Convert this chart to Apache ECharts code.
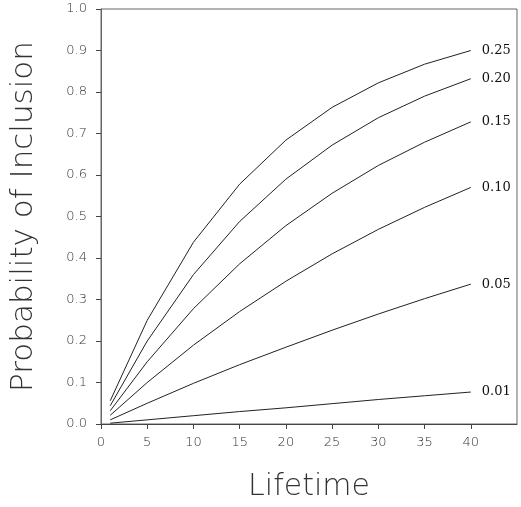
<!DOCTYPE html>
<html>
<head>
<meta charset="utf-8">
<script src="https://cdn.jsdelivr.net/npm/echarts@6/dist/echarts.min.js"></script>
<style>
html,body{margin:0;padding:0;background:#fff;}
#chart{width:521px;height:507px;}
</style>
</head>
<body>
<div id="chart"></div>
<script>
// Lifetime values (x)
const lifetimes = [1, 5, 10, 15, 20, 25, 30, 35, 40];
// Probability of inclusion for each curve
const p025 = [0.056, 0.250, 0.438, 0.578, 0.684, 0.763, 0.822, 0.867, 0.900];
const p020 = [0.044, 0.200, 0.360, 0.488, 0.590, 0.672, 0.738, 0.790, 0.832];
const p015 = [0.032, 0.150, 0.278, 0.386, 0.478, 0.556, 0.623, 0.679, 0.728];
const p010 = [0.021, 0.100, 0.190, 0.271, 0.344, 0.410, 0.469, 0.522, 0.570];
const p005 = [0.010, 0.050, 0.098, 0.143, 0.185, 0.226, 0.265, 0.302, 0.337];
const p001 = [0.002, 0.010, 0.020, 0.030, 0.039, 0.049, 0.059, 0.068, 0.077];
const curveNames = ['0.25', '0.20', '0.15', '0.10', '0.05', '0.01'];
const curveValues = [p025, p020, p015, p010, p005, p001];
const xTicks = [0, 5, 10, 15, 20, 25, 30, 35, 40];

const chart = echarts.init(document.getElementById('chart'), null, {renderer: 'canvas'});

const thinFont = 'DejaVu Sans';

const series = curveNames.map((name, i) => ({
  name: name,
  type: 'line',
  data: lifetimes.map((x, j) => [x, curveValues[i][j]]),
  showSymbol: false,
  symbol: 'none',
  lineStyle: {color: '#222', width: 1},
  endLabel: {
    show: true,
    formatter: '{a}',
    distance: 11,
    fontFamily: 'DejaVu Serif',
    fontSize: 13,
    color: '#111'
  },
  silent: true
}));

chart.setOption({
  animation: false,
  backgroundColor: '#fff',
  grid: {
    left: 97, right: 4, top: 9, bottom: 79,
    show: true, borderColor: '#666', borderWidth: 1
  },
  xAxis: {
    type: 'value', min: 0, max: 45, interval: 5,
    name: 'Lifetime',
    nameLocation: 'middle',
    nameGap: 48,
    nameTextStyle: {fontFamily: thinFont, fontWeight: 200, fontSize: 30, color: '#333'},
    axisLine: {show: true, lineStyle: {color: '#444', width: 1}},
    axisTick: {show: true, inside: false, length: 5, lineStyle: {color: '#444'}, customValues: xTicks},
    axisLabel: {margin: 12, fontFamily: thinFont, fontWeight: 200, fontSize: 13, color: '#333', customValues: xTicks},
    splitLine: {show: false}
  },
  yAxis: {
    type: 'value', min: 0, max: 1, interval: 0.1,
    name: 'Probability of Inclusion',
    nameLocation: 'middle',
    nameGap: 62,
    nameTextStyle: {fontFamily: thinFont, fontWeight: 200, fontSize: 31, color: '#333'},
    axisLine: {show: true, lineStyle: {color: '#666', width: 1}},
    axisTick: {show: true, inside: false, length: 5, lineStyle: {color: '#444'}},
    axisLabel: {margin: 14, fontFamily: thinFont, fontWeight: 200, fontSize: 13, color: '#333',
      formatter: v => v.toFixed(1)},
    splitLine: {show: false}
  },
  series: series
});
</script>
</body>
</html>
